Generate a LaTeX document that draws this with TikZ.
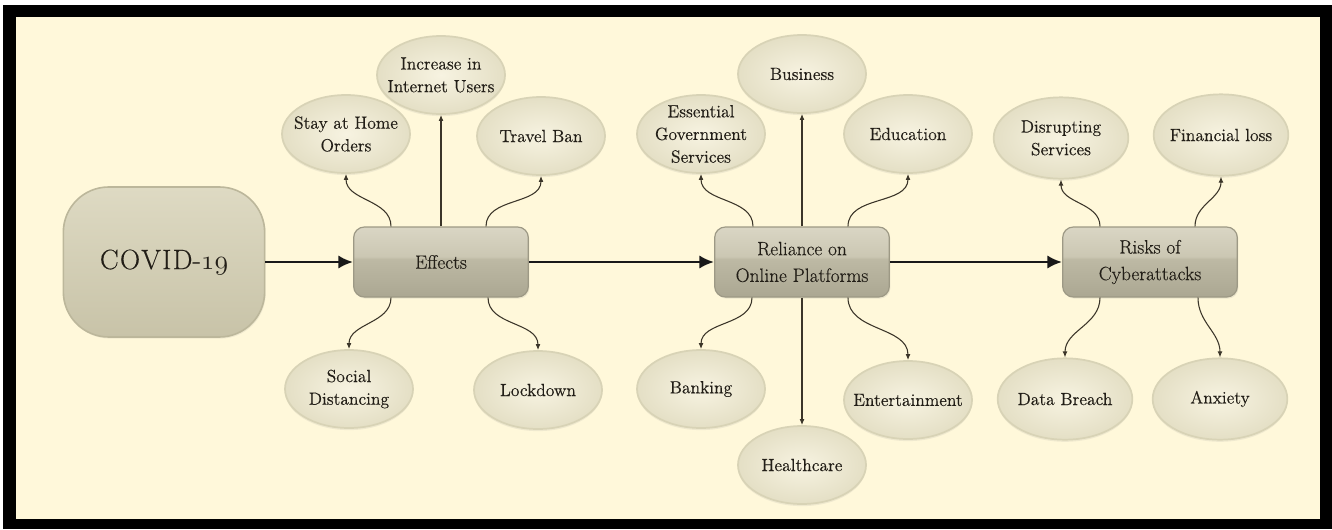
\documentclass[tikz,border=0pt]{standalone}
\usepackage{fontspec}
\setmainfont{Latin Modern Roman}[FakeBold=0.35]
\usetikzlibrary{shapes.geometric,arrows.meta,shadows,calc}

\definecolor{paper}{HTML}{FFF8DA}
\definecolor{ink}{HTML}{221E17}
\definecolor{wire}{HTML}{3B3529}
\definecolor{leafIn}{HTML}{F7F3E1}
\definecolor{leafOut}{HTML}{E4DFC5}
\definecolor{leafRim}{HTML}{D8D3B6}
\definecolor{boxA}{HTML}{DAD6C4}
\definecolor{boxB}{HTML}{CBC7B3}
\definecolor{boxC}{HTML}{BDB9A4}
\definecolor{boxD}{HTML}{ABA792}
\definecolor{boxRim}{HTML}{9D9985}
\definecolor{rootTop}{HTML}{DEDAC3}
\definecolor{rootBot}{HTML}{C8C3A8}
\definecolor{rootRim}{HTML}{BCB79B}

% glossy vertical fill for the hub boxes (25bp = bottom, 75bp = top)
\pgfdeclareverticalshading{boxgloss}{100bp}{%
  color(0bp)=(boxD); color(25bp)=(boxD); color(52bp)=(boxC);
  color(54bp)=(boxB); color(75bp)=(boxA); color(100bp)=(boxA)}

% old-style figures taken from the math italic font
\newcommand{\osf}[1]{{\usefont{OML}{cmm}{m}{it}#1}}

\begin{document}
\begin{tikzpicture}[x=0.75pt,y=0.75pt,
  leaf/.style={ellipse, minimum width=96pt, minimum height=58.5pt, inner sep=0pt,
    inner color=leafIn, outer color=leafOut, draw=leafRim, line width=1.3pt,
    drop shadow={opacity=0.12, shadow xshift=0pt, shadow yshift=-1.6pt}},
  bigleaf/.style={leaf, minimum width=101pt, minimum height=61pt},
  leaftext/.style={text=ink, align=center, inner sep=0pt,
    font=\fontsize{13.2}{17}\selectfont},
  hub/.style={rectangle, rounded corners=8pt, minimum width=131pt, minimum height=52.5pt,
    shading=boxgloss, draw=boxRim, line width=0.9pt, text=ink, align=center,
    font=\fontsize{14.5}{20}\selectfont,
    drop shadow={opacity=0.15, shadow xshift=0.8pt, shadow yshift=-1.2pt}},
  root/.style={rectangle, rounded corners=34pt, minimum width=151pt, minimum height=112.5pt,
    top color=rootTop, bottom color=rootBot, draw=rootRim, line width=1.2pt, text=ink,
    font=\fontsize{21}{24}\selectfont,
    drop shadow={opacity=0.12, shadow xshift=0.8pt, shadow yshift=-1.2pt}},
  flow/.style={draw=black!90, line width=2.1pt, -{Latex[length=11pt,width=10pt]}},
  link/.style={draw=wire, line width=0.8pt, -{Latex[length=4.5pt,width=3.6pt]}},
]
\useasboundingbox (0,0) rectangle (1332,-529);

% frame
\fill[white] (0,0) rectangle (1332,-529);
\fill[black] (3,-5) rectangle (1332,-529);
\fill[paper] (16,-17) rectangle (1320,-519);

% main chain
\node[root] (covid) at (164,-262) {C\kern1pt O\kern1pt V\kern1pt I\kern1pt D-\osf{19}};
\node[hub]  (eff)   at (441,-262) {Effects};
\node[hub]  (rel)   at (802,-262) {Reliance on\\Online Platforms};
\node[hub]  (risk)  at (1150,-262) {Risks of\\Cyberattacks};

% effects
\node[leaf, label={[leaftext]center:Stay at Home\\Orders}] (stay) at (346,-134) {};
\node[leaf, label={[leaftext]center:Increase in\\Internet Users}] (inc) at (441,-75) {};
\node[leaf, label={[leaftext]center:Travel Ban}] (travel) at (541,-136) {};
\node[leaf, label={[leaftext]center:Social\\Distancing}] (social) at (349,-389) {};
\node[leaf, label={[leaftext]center:Lockdown}] (lock) at (538,-390) {};

% online platforms
\node[leaf, label={[leaftext]center:Essential\\Government\\Services}] (egs) at (701,-134) {};
\node[leaf, label={[leaftext]center:Business}] (bus) at (802,-74) {};
\node[leaf, label={[leaftext]center:Education}] (edu) at (908,-134) {};
\node[leaf, label={[leaftext]center:Banking}] (bank) at (701,-389) {};
\node[leaf, label={[leaftext]center:Healthcare}] (health) at (802,-465) {};
\node[leaf, label={[leaftext]center:Entertainment}] (ent) at (908,-400) {};

% cyberattack risks
\node[bigleaf, label={[leaftext]center:Disrupting\\Services}] (disr) at (1061,-138) {};
\node[bigleaf, label={[leaftext]center:Financial loss}] (fin) at (1221,-135) {};
\node[bigleaf, label={[leaftext]center:Data Breach}] (breach) at (1065,-399) {};
\node[bigleaf, label={[leaftext]center:Anxiety}] (anx) at (1220,-399) {};

% chain arrows
\draw[flow] (covid.east) -- (eff.west);
\draw[flow] (eff.east) -- (rel.west);
\draw[flow] (rel.east) -- (risk.west);

% branches from Effects
\draw[link] ($(eff.north)+(-50,0)$) to[out=90,in=-90] (stay.south);
\draw[link] (eff.north) -- (inc.south);
\draw[link] ($(eff.north)+(45,0)$) to[out=90,in=-90] (travel.south);
\draw[link] ($(eff.south)+(-50,0)$) to[out=-90,in=90] (social.north);
\draw[link] ($(eff.south)+(47,0)$) to[out=-90,in=90] (lock.north);

% branches from Reliance on Online Platforms
\draw[link] ($(rel.north)+(-49,0)$) to[out=90,in=-90] (egs.south);
\draw[link] (rel.north) -- (bus.south);
\draw[link] ($(rel.north)+(46,0)$) to[out=90,in=-90] (edu.south);
\draw[link] ($(rel.south)+(-50,0)$) to[out=-90,in=90] (bank.north);
\draw[link] (rel.south) -- (health.north);
\draw[link] ($(rel.south)+(46,0)$) to[out=-90,in=90] (ent.north);

% branches from Risks of Cyberattacks
\draw[link] ($(risk.north)+(-50,0)$) to[out=90,in=-90] (disr.south);
\draw[link] ($(risk.north)+(45,0)$) to[out=90,in=-90] (fin.south);
\draw[link] ($(risk.south)+(-50,0)$) to[out=-90,in=90] (breach.north);
\draw[link] ($(risk.south)+(48,0)$) to[out=-90,in=90] (anx.north);
\end{tikzpicture}
\end{document}
